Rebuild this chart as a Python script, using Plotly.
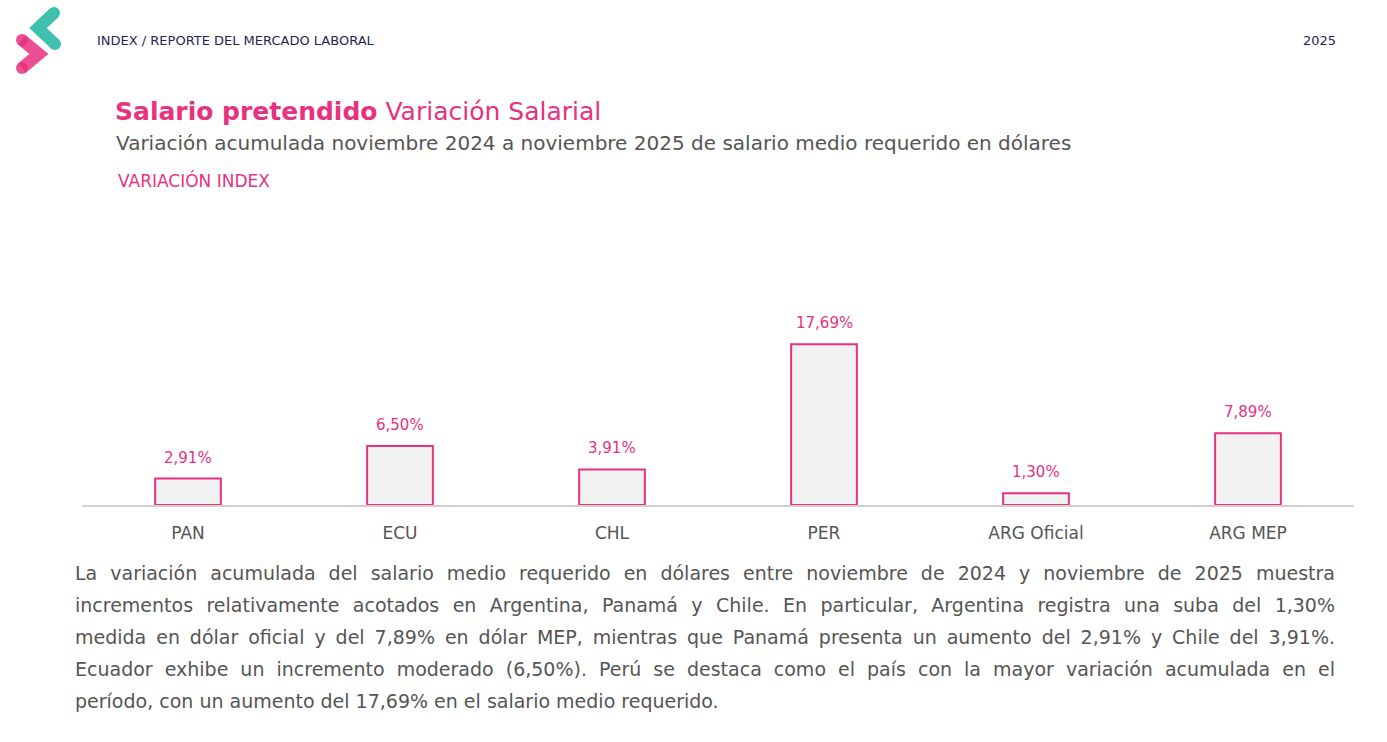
import json
import plotly.graph_objects as go

# ---- data ----
categories = ["PAN", "ECU", "CHL", "PER", "ARG Oficial", "ARG MEP"]
variation_pct = [2.91, 6.50, 3.91, 17.69, 1.30, 7.89]

header_text = "INDEX / REPORTE DEL MERCADO LABORAL"
year_text = "2025"
title_bold = "Salario pretendido"
title_rest = "Variación Salarial"
subtitle = "Variación acumulada noviembre 2024 a noviembre 2025 de salario medio requerido en dólares"
series_label = "VARIACIÓN INDEX"
paragraph_lines = [
    "La variación acumulada del salario medio requerido en dólares entre noviembre de 2024 y noviembre de 2025 muestra",
    "incrementos relativamente acotados en Argentina, Panamá y Chile. En particular, Argentina registra una suba del 1,30%",
    "medida en dólar oficial y del 7,89% en dólar MEP, mientras que Panamá presenta un aumento del 2,91% y Chile del 3,91%.",
    "Ecuador exhibe un incremento moderado (6,50%). Perú se destaca como el país con la mayor variación acumulada en el",
    "período, con un aumento del 17,69% en el salario medio requerido.",
]

W, H = 1387, 742
PINK = "#E8317F"
PINK_BLEND = "#EC5092"
TEAL = "#3FBFAD"
NAVY = "#1E2656"
GRAY = "#555555"
FONT = "DejaVu Sans"

def px(x):
    return x / W

def py(y):
    return 1 - y / H

fig = go.Figure()
fig.add_trace(go.Bar(
    x=categories,
    y=variation_pct,
    marker=dict(color="#F2F2F2", line=dict(color=PINK, width=2)),
    hoverinfo="skip",
))

annotations = [
    dict(text=header_text, x=px(95), y=py(40), xanchor="left", yanchor="middle",
         font=dict(size=13, color=NAVY, family=FONT)),
    dict(text=year_text, x=px(1338), y=py(40), xanchor="right", yanchor="middle",
         font=dict(size=13, color=NAVY, family=FONT)),
    dict(text=f"<b>{title_bold}</b> {title_rest}", x=px(113), y=py(112), xanchor="left", yanchor="middle",
         font=dict(size=25, color=PINK, family=FONT)),
    dict(text=subtitle, x=px(114), y=py(143), xanchor="left", yanchor="middle",
         font=dict(size=20, color=GRAY, family=FONT)),
    dict(text=series_label, x=px(116), y=py(181), xanchor="left", yanchor="middle",
         font=dict(size=17, color=PINK, family=FONT)),
]
for a in annotations:
    a.update(xref="paper", yref="paper", showarrow=False)

for i, line in enumerate(paragraph_lines):
    annotations.append(dict(text=line, x=px(73), y=py(573 + 32 * i), xref="paper", yref="paper",
                            xanchor="left", yanchor="middle", align="left", showarrow=False,
                            font=dict(size=19, color=GRAY, family=FONT)))

# value labels above bars
for c, v in zip(categories, variation_pct):
    annotations.append(dict(x=c, y=v, xref="x", yref="y", text=f"{v:.2f}%".replace(".", ","),
                            showarrow=False, yanchor="bottom", yshift=10,
                            font=dict(size=15, color=PINK, family=FONT)))

# logo (two overlapping chevrons with rounded ends)
def cap(x, y, color, r=6):
    return dict(type="circle", xref="paper", yref="paper", layer="above",
                x0=px(x - r), x1=px(x + r), y0=py(y + r), y1=py(y - r),
                fillcolor=color, line=dict(width=0))

shapes = [
    cap(54, 13, TEAL), cap(55, 44, TEAL),
    dict(type="path", xref="paper", yref="paper", layer="above",
         path=f"M {px(54)},{py(13)} L {px(38)},{py(28)} L {px(55)},{py(44)}",
         line=dict(color=TEAL, width=12)),
    cap(22, 40, PINK_BLEND), cap(22, 68, PINK_BLEND),
    dict(type="path", xref="paper", yref="paper", layer="above",
         path=f"M {px(22)},{py(40)} L {px(39)},{py(54)} L {px(22)},{py(68)}",
         line=dict(color=PINK, width=12), opacity=0.85),
]

fig.update_layout(
    width=W, height=H,
    margin=dict(l=0, r=0, t=0, b=0),
    paper_bgcolor="white", plot_bgcolor="white",
    showlegend=False,
    bargap=0.69,
    font=dict(family=FONT),
    xaxis=dict(domain=[px(82), px(1354)], showgrid=False, showline=True, linecolor="#D0D0D0", linewidth=1.5,
               ticks="", tickfont=dict(size=17, color=GRAY, family=FONT), ticklabelstandoff=12,
               fixedrange=True),
    yaxis=dict(domain=[py(505), py(205)], range=[0, 33], visible=False, showgrid=False, zeroline=False,
               fixedrange=True),
    annotations=annotations,
    shapes=shapes,
)

justify_prefixes = [l[:25] for l in paragraph_lines[:-1]]
post_js = """
document.body.style.margin = '0';
var gd = document.getElementById('{plot_id}');
var prefixes = %s;
var target = %d;
var texts = gd.querySelectorAll('text.annotation-text');
texts.forEach(function(t) {
  var s = t.textContent;
  for (var i = 0; i < prefixes.length; i++) {
    if (s.indexOf(prefixes[i]) === 0) {
      var w = t.getComputedTextLength();
      var n = (s.match(/ /g) || []).length;
      if (n > 0 && w < target) { t.setAttribute('word-spacing', ((target - w) / n).toFixed(3)); }
    }
  }
});
""" % (json.dumps(justify_prefixes), 1334 - 74)

fig.write_html("out.html", post_script=post_js, config={"displayModeBar": False})
